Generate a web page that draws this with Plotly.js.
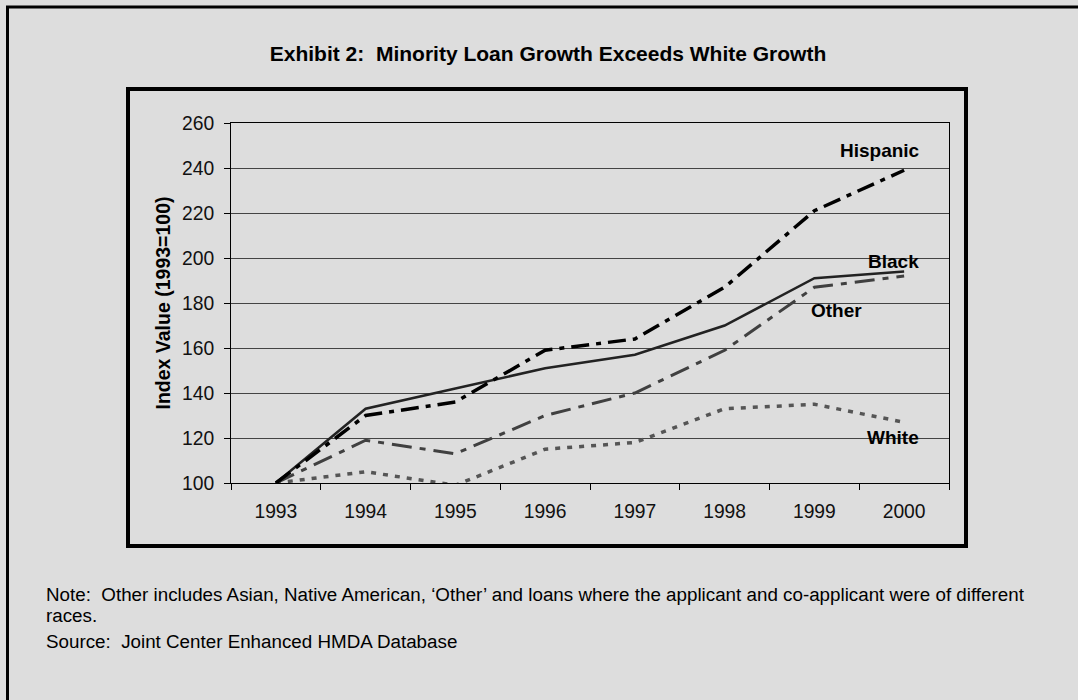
<!DOCTYPE html>
<html>
<head>
<meta charset="utf-8">
<script src="https://cdn.plot.ly/plotly-3.0.1.min.js"></script>
<style>
html,body{margin:0;padding:0;background:#dddddd;}
#chart{width:1078px;height:700px;}
</style>
</head>
<body>
<div id="chart"></div>
<script>
const years = ["1993","1994","1995","1996","1997","1998","1999","2000"];
const black = [100,133,142,151,157,170,191,194];
const hispanic = [100,130,136,159,164,187,221,239];
const other = [100,119,113,130,140,159,187,192];
const white = [100,105,99,115,118,133,135,127];

const F = "Liberation Sans, Arial, sans-serif";
const W = 1078, H = 700;
const L = 231, R = 949, T = 123, B = 483;
const px = x => (x - L) / (R - L);
const py = y => (B - y) / (B - T);

const traces = [
  {x: years, y: white, name: "White", mode: "lines",
   line: {color: "#555555", width: 3.5, dash: "5px,7px"}},
  {x: years, y: other, name: "Other", mode: "lines",
   line: {color: "#404040", width: 3, dash: "20px,8px,6px,8px"}},
  {x: years, y: black, name: "Black", mode: "lines",
   line: {color: "#222222", width: 2.5}},
  {x: years, y: hispanic, name: "Hispanic", mode: "lines",
   line: {color: "#000000", width: 3.5, dash: "18px,7px,5px,7px"}}
];

const seriesLabels = [
  {text: "Hispanic", x: 880, y: 151},
  {text: "Black", x: 893, y: 261},
  {text: "Other", x: 836, y: 310},
  {text: "White", x: 893, y: 437}
];

const annotations = seriesLabels.map(s => ({
  text: "<b>" + s.text + "</b>", xref: "paper", yref: "paper",
  x: px(s.x), y: py(s.y), xanchor: "center", yanchor: "middle",
  showarrow: false, font: {family: F, size: 19, color: "#000"}
}));

const notes = [
  {text: "Note:  Other includes Asian, Native American, \u2018Other\u2019 and loans where the applicant and co-applicant were of different", y: 594},
  {text: "races.", y: 615},
  {text: "Source:  Joint Center Enhanced HMDA Database", y: 641}
];
notes.forEach(n => annotations.push({
  text: n.text, xref: "paper", yref: "paper", x: px(44), y: py(n.y),
  xanchor: "left", yanchor: "middle", showarrow: false,
  font: {family: F, size: 18.8, color: "#000"}
}));

const shapes = [
  {type: "rect", xref: "paper", yref: "paper",
   x0: px(128), x1: px(966), y0: py(546), y1: py(89),
   line: {color: "#000", width: 4}, fillcolor: "rgba(0,0,0,0)", layer: "below"},
  {type: "path", xref: "paper", yref: "paper",
   path: "M " + px(7.5) + "," + py(H + 5) + " L " + px(7.5) + "," + py(7) + " L " + px(W + 5) + "," + py(7),
   line: {color: "#000", width: 3}}
];

const layout = {
  width: W, height: H,
  paper_bgcolor: "#dddddd", plot_bgcolor: "#dddddd",
  margin: {l: L, r: W - R, t: T, b: H - B, pad: 0},
  showlegend: false,
  title: {text: "<b>Exhibit 2:  Minority Loan Growth Exceeds White Growth</b>",
          xref: "container", yref: "container", x: 548 / W, y: 1 - 54 / H,
          xanchor: "center", yanchor: "middle",
          font: {family: F, size: 21, color: "#000"}},
  xaxis: {type: "category", range: [-0.5, 7.5], tickson: "boundaries",
          ticks: "outside", ticklen: 6, tickcolor: "#000", tickwidth: 1,
          showline: true, linecolor: "#000", linewidth: 1, mirror: true,
          showgrid: false, zeroline: false, fixedrange: true,
          ticklabelstandoff: 11,
          tickfont: {family: F, size: 19.3, color: "#111"}},
  yaxis: {range: [100, 260], dtick: 20, tick0: 100,
          ticks: "outside", ticklen: 6, tickcolor: "#000", tickwidth: 1,
          showline: true, linecolor: "#000", linewidth: 1, mirror: true,
          showgrid: true, gridcolor: "#444444", gridwidth: 1, zeroline: false,
          ticklabelstandoff: 6,
          tickfont: {family: F, size: 19.3, color: "#111"},
          title: {text: "<b>Index Value (1993=100)</b>", standoff: 6,
                  font: {family: F, size: 19.5, color: "#000"}}},
  annotations: annotations,
  shapes: shapes
};

Plotly.newPlot("chart", traces, layout, {displayModeBar: false, staticPlot: true});
</script>
</body>
</html>
